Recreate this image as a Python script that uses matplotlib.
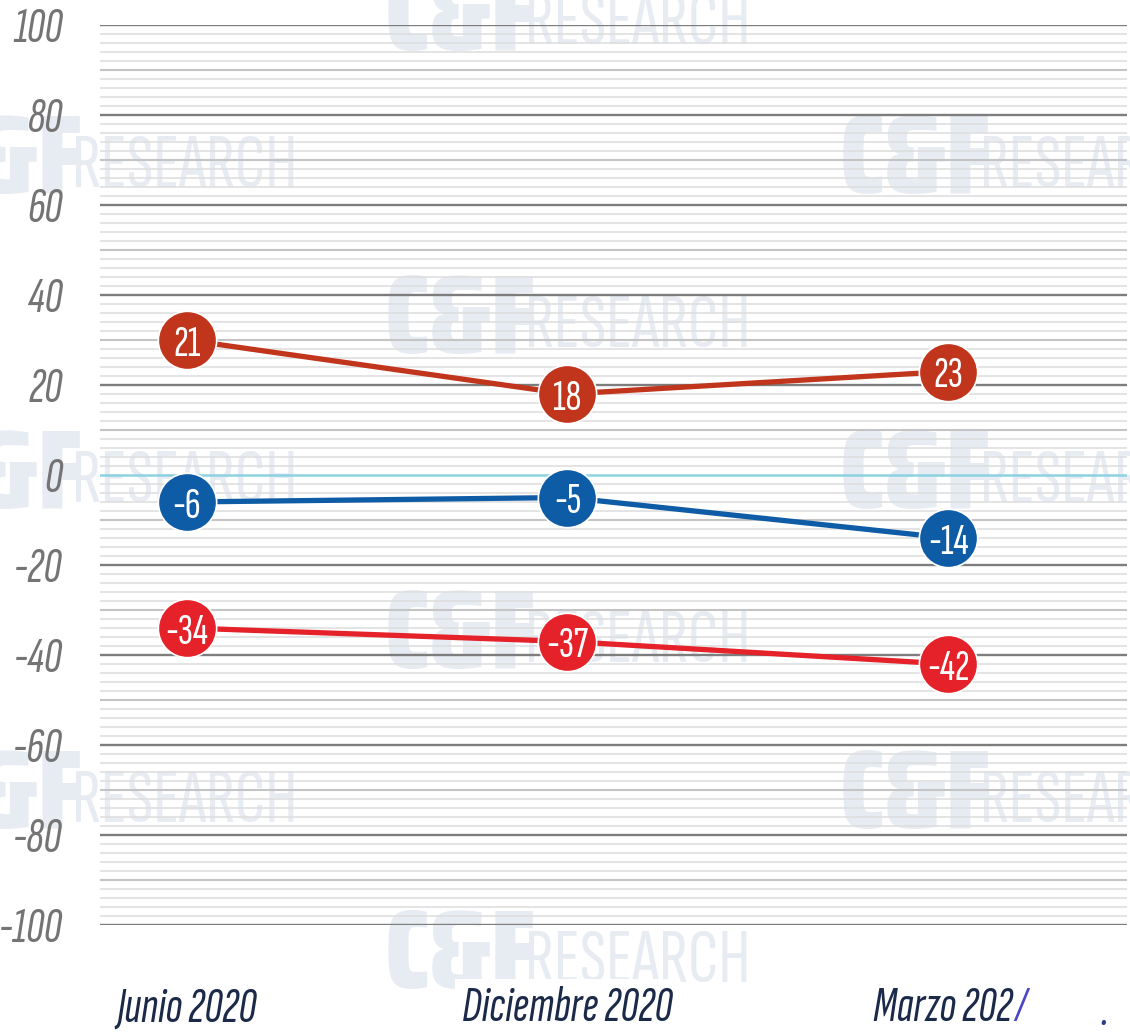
import matplotlib
matplotlib.use("Agg")
import matplotlib.pyplot as plt
from matplotlib.font_manager import FontProperties
import numpy as np

# ---------------- data ----------------
periods = ["Junio 2020", "Diciembre 2020", "Marzo 202"]
# plotted positions (as drawn in the picture) and printed labels
brown_pos = [30, 18, 23]
brown_lbl = ["21", "18", "23"]
blue_pos = [-6, -5, -14]
blue_lbl = ["-6", "-5", "-14"]
red_pos = [-34, -37, -42]
red_lbl = ["-34", "-37", "-42"]
y_ticks = [100, 80, 60, 40, 20, 0, -20, -40, -60, -80, -100]

# ---------------- style ----------------
W, H = 1130, 1034
fig = plt.figure(figsize=(W / 100, H / 100), dpi=100)
fig.patch.set_facecolor("white")

COND = ["Sofia Sans Extra Condensed", "Barlow Condensed", "DejaVu Sans"]
f_tick = FontProperties(family=COND, style="italic", weight=300, size=36)
f_x = FontProperties(family=COND, style="italic", weight=500, size=36)
f_pt = FontProperties(family=COND, weight=500, size=32)
f_wm_big = FontProperties(family=["Saira Condensed", "DejaVu Sans"], weight=900, size=80)
f_wm_small = FontProperties(family=COND, weight=400, size=56)

# watermarks (behind everything)
wm_color = "#E7EBF2"
wm_pos = [(385, 22), (-68, 165), (840, 165), (385, 325), (-68, 480), (840, 480),
          (385, 640), (-68, 800), (840, 800), (385, 960)]
for (x0, yc) in wm_pos:
    fig.text(x0 / W, 1 - (yc + 28) / H, "C&F", fontproperties=f_wm_big, color=wm_color,
             ha="left", va="baseline", zorder=-5)
    fig.text((x0 + 140) / W, 1 - (yc + 22) / H, "RESEARCH", fontproperties=f_wm_small, color=wm_color,
             ha="left", va="baseline", zorder=-5)

ax = fig.add_axes([100 / W, 1 - 925 / H, (1127 - 100) / W, 900 / H])
ax.set_facecolor("none")
ax.set_ylim(-100, 100)
ax.set_xlim(-0.228, 2.47)
for s in ax.spines.values():
    s.set_visible(False)

# grid lines
for v in np.arange(-100, 101, 2):
    if v == 0:
        ax.axhline(v, color="#8CD2E2", lw=1.8, zorder=1)
    elif v % 20 == 0:
        ax.axhline(v, color="#7D7D7D", lw=1.7, zorder=1)
    elif v % 10 == 0:
        ax.axhline(v, color="#C4C4C4", lw=1.5, zorder=1)
    else:
        ax.axhline(v, color="#DDDDDD", lw=1.1, zorder=1)

ax.set_yticks(y_ticks)
ax.set_yticklabels([str(t) for t in y_ticks])
for lab in ax.get_yticklabels():
    lab.set_fontproperties(f_tick)
    lab.set_color("#747474")
ax.tick_params(axis="y", length=0, pad=27)
ax.set_xticks([])

x = np.arange(len(periods))
series = [(brown_pos, brown_lbl, "#C0351C"), (blue_pos, blue_lbl, "#0F5CA6"), (red_pos, red_lbl, "#E5212A")]
for pos, lbl, col in series:
    ax.plot(x, pos, color=col, lw=3.8, zorder=3, solid_capstyle="round")
    ax.plot(x, pos, "o", ms=42, color=col, mec="white", mew=1.2, zorder=4)
    for xi, yi, t in zip(x, pos, lbl):
        ax.text(xi, yi, t, fontproperties=f_pt, color="white", ha="center", va="center_baseline", zorder=5)

# x labels
navy = "#1B2A48"
YX = -118.5
for xi, p in zip(x[:2], periods[:2]):
    ax.text(xi, YX, p, fontproperties=f_x, color=navy, ha="center", va="center", zorder=5, clip_on=False,
            bbox=dict(boxstyle="square,pad=0.15", fc="white", ec="none"))
# third label: text followed by a blue slash glyph, centred together under the point
fig.canvas.draw()
inv = ax.transData.inverted()
t1 = ax.text(x[2], YX, periods[2], fontproperties=f_x, color=navy, ha="center", va="center", clip_on=False,
             zorder=6, bbox=dict(boxstyle="square,pad=0.15", fc="white", ec="none"))
t2 = ax.text(x[2], YX, "/", fontproperties=f_x, color="#4B45C8", ha="left", va="center", clip_on=False, zorder=6)
fig.canvas.draw()
w1 = t1.get_window_extent().width
w2 = t2.get_window_extent().width
cx = ax.transData.transform((x[2], YX))[0]
t1.set_x(inv.transform((cx - w2 / 2, 0))[0])
t2.set_x(inv.transform((cx - w2 / 2 + w1 / 2 + 2, 0))[0])
fig.text(1104 / W, 1 - 1012 / H, ".", fontproperties=f_x, color="#2F3C8C", ha="center", va="center")

fig.savefig("out.png", dpi=100, facecolor="white")
